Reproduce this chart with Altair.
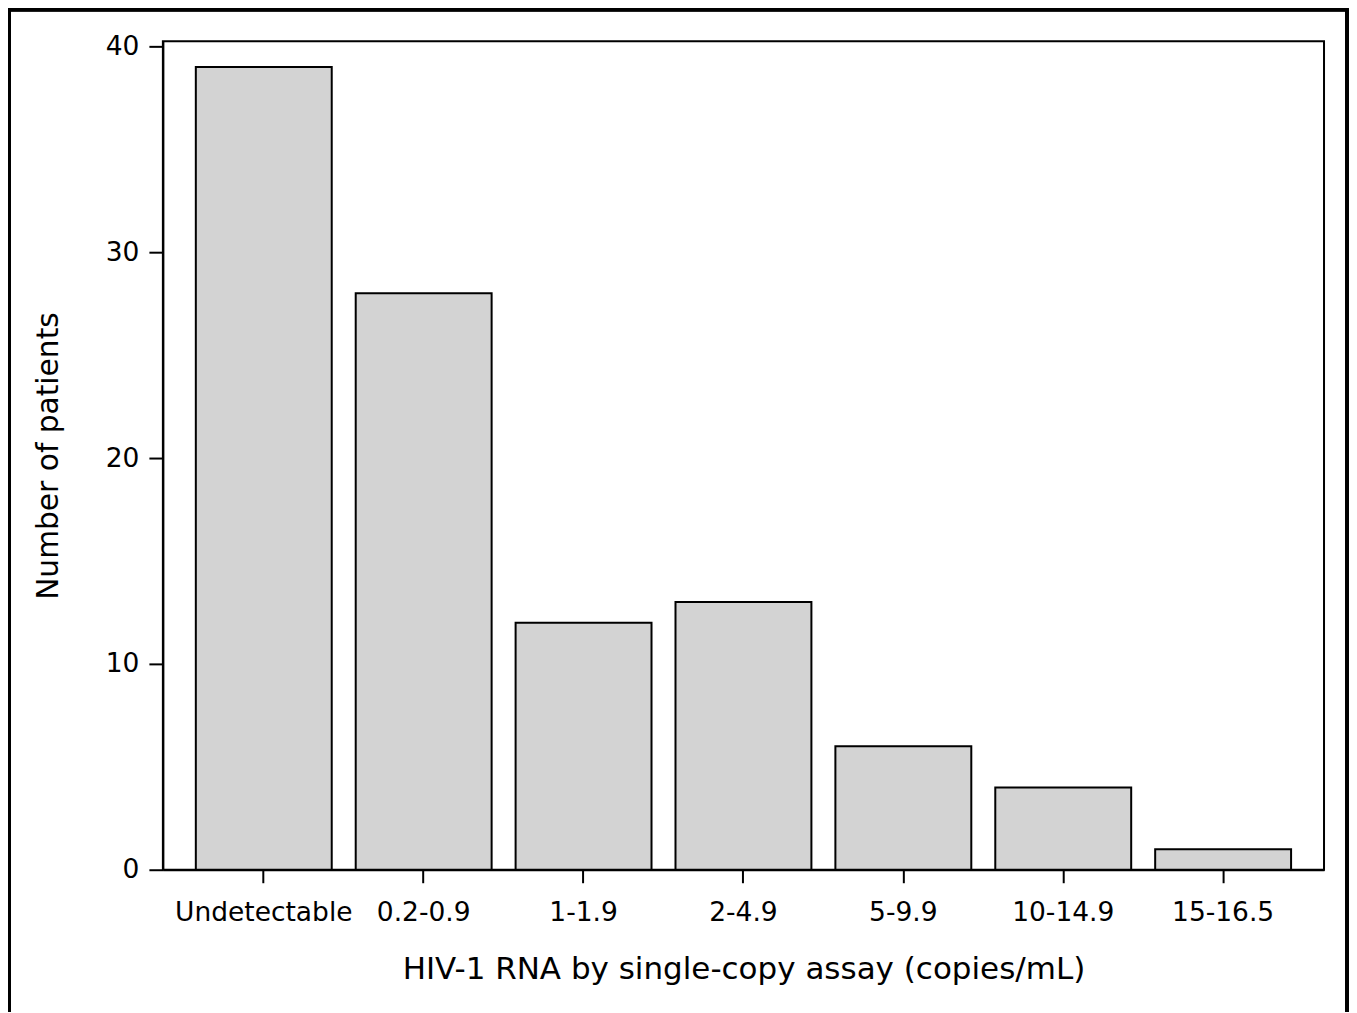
import altair as alt
import pandas as pd

categories = ["Undetectable", "0.2-0.9", "1-1.9", "2-4.9", "5-9.9", "10-14.9", "15-16.5"]
counts = [39, 28, 12, 13, 6, 4, 1]

df = pd.DataFrame({"cat": categories, "n": counts})

FONT = "DejaVu Sans"

bars = alt.Chart(df).mark_bar(
    fill="#d3d3d3", stroke="#000000", strokeWidth=2
).encode(
    x=alt.X("cat:N", sort=categories,
            scale=alt.Scale(paddingInner=0.15, paddingOuter=0.206),
            axis=alt.Axis(title="HIV-1 RNA by single-copy assay (copies/mL)",
                          labelAngle=0, labelFontSize=26.5, titleFontSize=31,
                          labelFont=FONT, titleFont=FONT, titleFontWeight="normal",
                          labelColor="#000", titleColor="#000",
                          tickSize=13, tickWidth=2, tickColor="#000",
                          domainColor="#000", domainWidth=2,
                          labelPadding=17, titlePadding=28)),
    y=alt.Y("n:Q", scale=alt.Scale(domain=[0, 40.24], nice=False),
            axis=alt.Axis(title="Number of patients", values=[0, 10, 20, 30, 40],
                          labelFontSize=26.5, titleFontSize=29.7,
                          labelFont=FONT, titleFont=FONT, titleFontWeight="normal",
                          labelColor="#000", titleColor="#000",
                          tickSize=14, tickWidth=2, tickColor="#000",
                          domainColor="#000", domainWidth=2, grid=False,
                          labelPadding=10, titlePadding=42)),
)

frame = alt.Chart(df).mark_rect(
    fill=None, stroke="#000000", strokeWidth=3
).encode(
    x=alt.value(-153.5), x2=alt.value(1185),
    y=alt.value(-31.5), y2=alt.value(980),
)

chart = alt.layer(bars, frame).properties(
    width=1162, height=829,
    autosize=alt.AutoSizeParams(type="none"),
    padding={"left": 155, "top": 33, "right": 25, "bottom": 142},
).configure(
    background="white",
    view=alt.ViewConfig(stroke="#000000", strokeWidth=2),
)

chart.save("out.html", embed_options={"renderer": "svg", "actions": False})
